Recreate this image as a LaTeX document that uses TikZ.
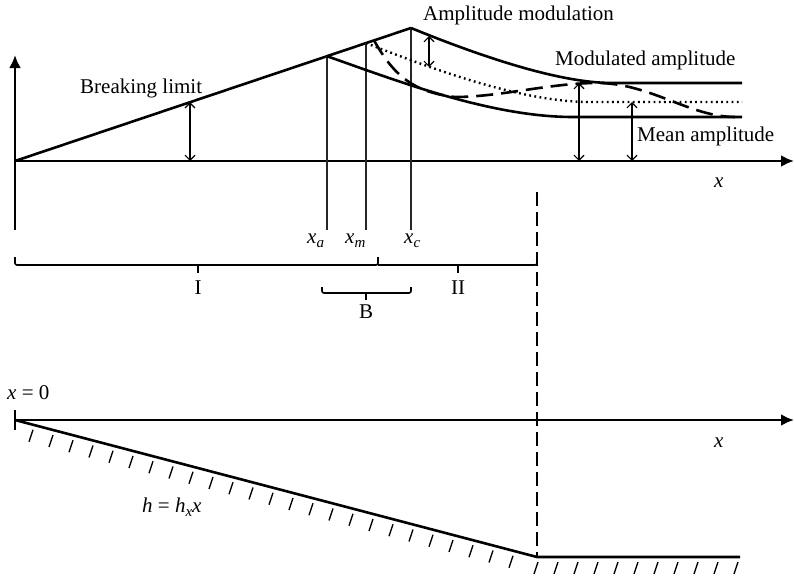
\documentclass[tikz,border=0pt]{standalone}
\usepackage{fontspec}
\setmainfont{Liberation Serif}
\usetikzlibrary{arrows.meta}
\newcommand{\subx}[2]{\textit{#1}\raisebox{-0.45ex}{\fontsize{15}{15}\selectfont\itshape #2}}
\begin{document}
\begin{tikzpicture}[x=1pt,y=-1pt,
  lbl/.style={font=\fontsize{21}{25}\selectfont, inner sep=0pt},
  axis/.style={line width=2.8pt, -{Latex[length=13pt,width=12pt]}},
  main/.style={line width=2.6pt},
  vline/.style={line width=1.5pt, black!85},
  dim/.style={line width=1.1pt, {Straight Barb[length=5pt,width=10pt]}-{Straight Barb[length=5pt,width=10pt]}},
  hatch/.style={line width=1.3pt},
  brk/.style={line width=1.6pt, rounded corners=2pt}
]
\useasboundingbox (0,0) rectangle (794,578);

% ---------- upper diagram ----------
\coordinate (O) at (15,161);
\coordinate (Xa) at (327,56.2);
\coordinate (Xm) at (366,43.1);
\coordinate (Xc) at (411,28);
\coordinate (Ds) at (374,40.4);

\draw[axis] (15,230) -- (15,55);
\draw[axis] (O) -- (794,161);

\draw[main] (O) -- (Xa) -- (Xm) -- (Xc);
\draw[vline] (Xa) -- (327,230);
\draw[vline] (Xm) -- (366,230);
\draw[vline] (Xc) -- (411,230);

\draw[main] (Xc) .. controls (470,52) and (555,83) .. (612,83) -- (742,83);
\draw[main] (Xa) .. controls (395,80) and (490,117) .. (573,117) -- (742,117);
\draw[line width=2.4pt, dash pattern=on 1.8pt off 3.4pt]
  (Xm) .. controls (430,68) and (520,102) .. (590,102) -- (742,102);
\draw[line width=2.6pt, dash pattern=on 17pt off 8pt]
  (Ds) .. controls (392,72) and (410,92) .. (455,97)
       .. controls (500,97) and (550,83) .. (597,83)
       .. controls (650,83) and (690,117) .. (735,117);

\draw[dim] (190,161) -- (190,102.2);
\draw[dim] (429,36) -- (429,67);
\draw[dim] (579,161) -- (579,83);
\draw[dim] (632,161) -- (632,102);

\node[lbl, anchor=base west] (bl) at (80,93) {Breaking limit};
\node[lbl, anchor=base west] (am) at (423,21) {Amplitude modulation};
\node[lbl, anchor=base west] (ma) at (555,65) {Modulated amplitude};
\node[lbl, anchor=base west] (mn) at (637,141) {Mean amplitude};
\node[lbl, anchor=base west] (xlab1) at (714,187) {\textit{x}};
\node[lbl, anchor=base west] (xa) at (307,243) {\subx{x}{a}};
\node[lbl, anchor=base west] (xm) at (345,243) {\subx{x}{m}};
\node[lbl, anchor=base west] (xc) at (404,243) {\subx{x}{c}};

% braces
\draw[brk] (15,257) -- (15,265) -- (378,265) -- (378,257);
\draw[brk] (378,265) -- (537,265) -- (537,257);
\draw[line width=1.6pt] (198,265) -- (198,273);
\draw[line width=1.6pt] (458,265) -- (458,273);
\draw[brk] (322,287) -- (322,293) -- (411,293) -- (411,287);
\draw[line width=1.6pt] (366,293) -- (366,300);
\node[lbl, anchor=base] (rI) at (198,294) {I};
\node[lbl, anchor=base] (rII) at (458,294) {II};
\node[lbl, anchor=base] (rB) at (366,318) {B};

\draw[line width=1.4pt, dash pattern=on 14pt off 6pt] (537,192) -- (537,557);

% ---------- lower diagram ----------
\node[lbl, anchor=base west] (x0) at (7,399) {\textit{x} = 0};
\draw[axis] (15,420) -- (794,420);
\draw[line width=2.8pt] (15,410) -- (15,430);
\node[lbl, anchor=base west] (xlab2) at (714,447) {\textit{x}};
\coordinate (S0) at (15,420);
\coordinate (S1) at (537,557);
\coordinate (S2) at (740,557);
\draw[main] (S0) -- (S1) -- (S2);
\foreach \x in {33,53,...,513}
  \draw[hatch] (\x,{420+0.26245*(\x-15)+5}) -- ++(-4,12);
\foreach \x in {538,558,...,738}
  \draw[hatch] (\x,562) -- ++(-4,12);
\node[lbl, anchor=base west] (hx) at (142,512) {\textit{h} = \subx{h}{x}\textit{x}};
\end{tikzpicture}
\end{document}
